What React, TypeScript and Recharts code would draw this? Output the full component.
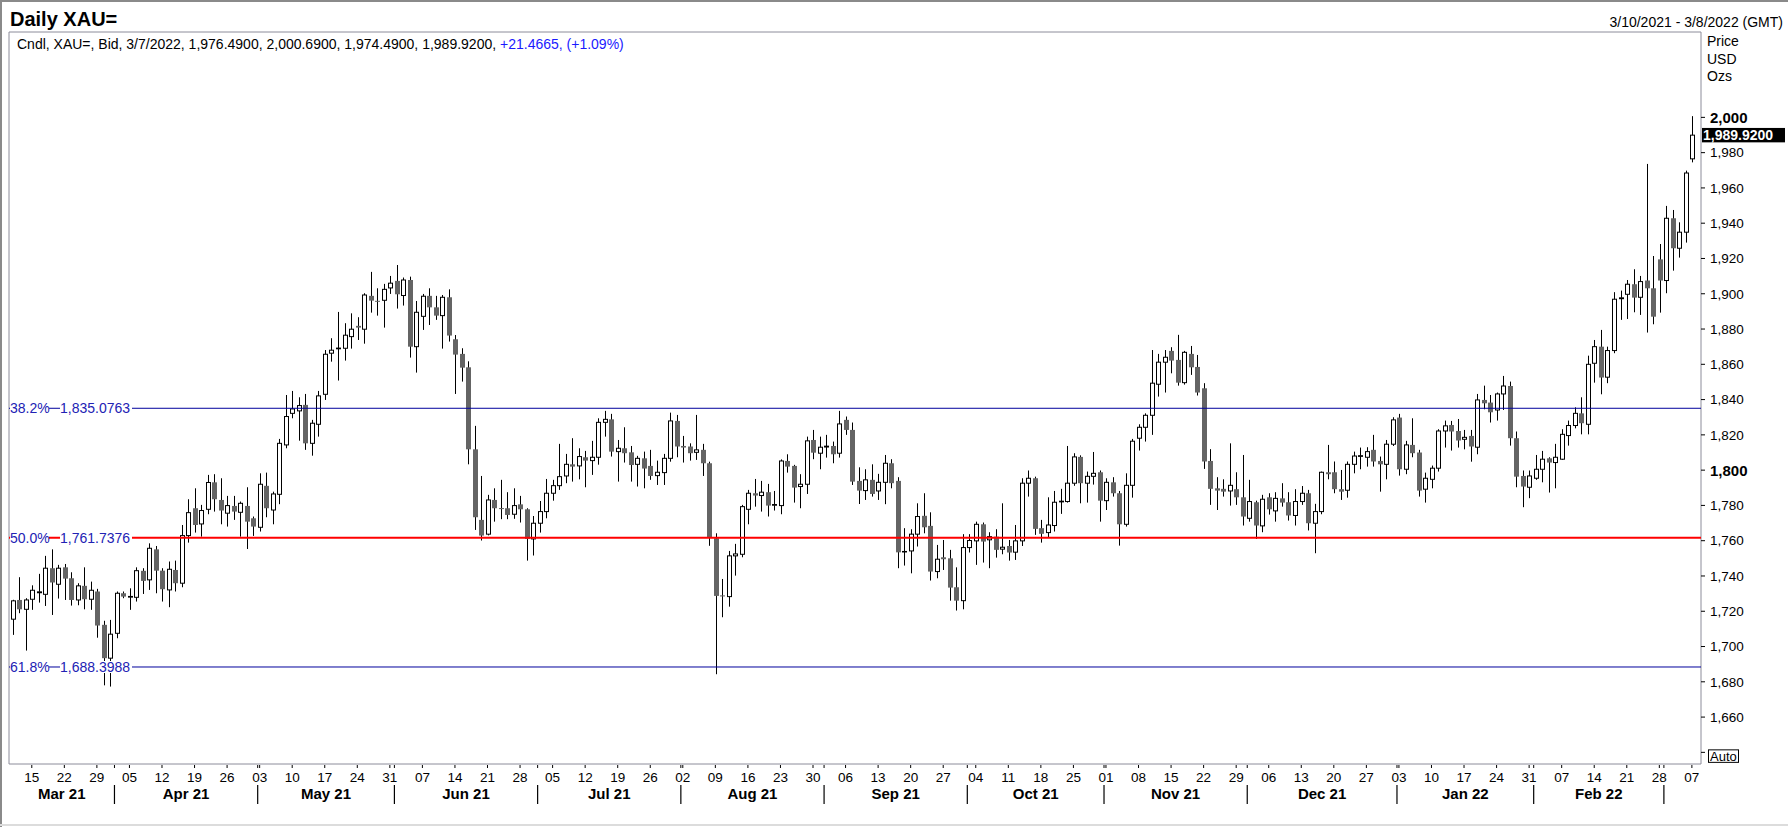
import React from 'react';
import { ComposedChart, Bar, XAxis, YAxis, ReferenceLine, ReferenceArea } from 'recharts';

const FONT = '"Liberation Sans", Arial, sans-serif';

// daily XAU= bid candles, first session 10 Mar 2021 (weekdays only)
const opens = [
  1715.5, 1726.4, 1721.1, 1726.8, 1730.5, 1729.6, 1744.4, 1735.3, 1744.9, 1738.7,
  1726.4, 1734.4, 1726.8, 1731.2, 1712.3, 1693.4, 1707.5, 1730.2, 1728.0, 1727.9,
  1742.9, 1737.8, 1755.1, 1743.0, 1732.1, 1743.4, 1735.9, 1762.9, 1778.4, 1769.5,
  1777.8, 1793.1, 1783.1, 1775.6, 1779.7, 1776.1, 1779.7, 1772.7, 1767.6, 1791.1,
  1777.4, 1786.3, 1814.3, 1832.2, 1833.6, 1837.0, 1815.2, 1826.0, 1843.0, 1866.3,
  1868.8, 1869.1, 1875.7, 1881.8, 1879.9, 1898.8, 1896.0, 1896.3, 1903.3, 1907.3,
  1899.0, 1907.8, 1870.0, 1887.2, 1898.8, 1892.3, 1887.6, 1898.0, 1874.2, 1865.9,
  1858.3, 1811.8, 1771.8, 1763.7, 1783.1, 1778.5, 1778.4, 1775.0, 1780.6, 1777.8,
  1761.0, 1769.9, 1776.5, 1786.9, 1791.2, 1796.7, 1803.3, 1802.4, 1807.3, 1805.4,
  1807.3, 1827.1, 1828.8, 1810.5, 1812.4, 1810.1, 1803.3, 1806.7, 1802.4, 1796.9,
  1798.6, 1806.7, 1827.9, 1813.7, 1813.4, 1810.1, 1811.5, 1803.9, 1761.4, 1729.0,
  1728.3, 1751.4, 1752.3, 1777.8, 1786.9, 1785.6, 1787.5, 1780.1, 1779.9, 1805.2,
  1802.4, 1790.7, 1792.0, 1817.1, 1809.6, 1813.1, 1813.7, 1809.6, 1828.5, 1822.8,
  1793.9, 1788.4, 1794.5, 1788.2, 1793.1, 1803.9, 1793.9, 1753.6, 1754.2, 1763.7,
  1774.1, 1768.4, 1742.5, 1750.6, 1750.0, 1733.6, 1726.0, 1756.1, 1759.9, 1769.3,
  1760.5, 1762.3, 1755.2, 1757.0, 1753.5, 1759.9, 1792.6, 1795.4, 1767.1, 1764.6,
  1768.6, 1782.0, 1782.2, 1792.6, 1807.5, 1792.6, 1796.5, 1798.8, 1782.7, 1793.1,
  1786.9, 1769.3, 1791.4, 1818.1, 1824.3, 1831.1, 1848.7, 1861.2, 1867.6, 1862.5,
  1849.6, 1865.9, 1858.5, 1846.4, 1805.2, 1789.7, 1789.4, 1788.2, 1789.2, 1784.6,
  1772.7, 1781.8, 1768.4, 1784.6, 1776.9, 1784.0, 1781.8, 1774.3, 1782.2, 1786.9,
  1769.9, 1776.5, 1798.8, 1798.8, 1789.2, 1788.6, 1803.3, 1807.8, 1807.3, 1811.5,
  1805.2, 1803.3, 1814.7, 1829.8, 1800.5, 1814.3, 1810.0, 1789.2, 1794.8, 1801.1,
  1822.2, 1825.6, 1822.2, 1817.5, 1819.4, 1813.0, 1839.8, 1838.3, 1834.1, 1843.2,
  1847.7, 1818.1, 1796.7, 1790.3, 1795.4, 1800.5, 1806.7, 1804.3, 1806.2, 1819.6,
  1825.3, 1832.2, 1826.0, 1860.6, 1870.0, 1852.7, 1867.8, 1897.2, 1899.7, 1905.4,
  1898.0, 1907.5, 1903.1, 1919.5, 1907.5, 1942.8, 1925.8, 1934.9, 1976.49,
];

const highs = [
  1726.5, 1739.3, 1727.4, 1734.7, 1741.2, 1751.4, 1755.1, 1746.3, 1746.8, 1742.1,
  1735.9, 1744.9, 1736.8, 1732.7, 1714.6, 1715.1, 1731.2, 1731.2, 1733.0, 1744.9,
  1744.4, 1758.5, 1757.0, 1744.4, 1748.2, 1748.7, 1768.9, 1783.5, 1789.7, 1780.3,
  1797.3, 1797.7, 1795.4, 1785.4, 1785.4, 1782.2, 1790.3, 1773.7, 1798.2, 1798.6,
  1787.8, 1817.7, 1842.6, 1844.9, 1841.3, 1843.2, 1828.5, 1844.9, 1868.1, 1874.8,
  1889.7, 1883.3, 1888.9, 1886.7, 1900.3, 1912.4, 1903.1, 1905.6, 1910.1, 1916.3,
  1909.2, 1909.7, 1895.9, 1899.9, 1903.1, 1898.8, 1899.3, 1902.5, 1876.6, 1869.1,
  1861.7, 1825.1, 1796.7, 1786.0, 1789.7, 1794.5, 1787.5, 1789.7, 1785.4, 1778.4,
  1774.0, 1782.5, 1795.0, 1794.5, 1814.9, 1809.2, 1818.1, 1812.4, 1810.9, 1816.6,
  1829.4, 1833.6, 1831.9, 1817.1, 1824.3, 1813.7, 1808.1, 1810.5, 1811.5, 1805.4,
  1809.2, 1832.6, 1831.3, 1819.4, 1815.2, 1831.3, 1814.9, 1804.8, 1764.2, 1738.3,
  1754.2, 1758.2, 1780.3, 1788.8, 1795.0, 1793.9, 1792.2, 1788.2, 1806.1, 1809.0,
  1803.0, 1797.7, 1819.0, 1822.8, 1819.0, 1820.0, 1816.2, 1833.6, 1830.4, 1827.0,
  1801.6, 1800.5, 1803.3, 1797.9, 1808.6, 1806.2, 1796.0, 1767.1, 1766.5, 1781.2,
  1786.9, 1776.1, 1757.6, 1760.4, 1754.8, 1744.9, 1763.7, 1763.7, 1770.8, 1770.3,
  1764.8, 1766.5, 1781.2, 1760.4, 1768.9, 1795.4, 1799.8, 1796.3, 1771.8, 1784.6,
  1788.2, 1789.4, 1813.7, 1809.6, 1808.4, 1799.2, 1810.3, 1799.8, 1795.4, 1796.0,
  1788.2, 1798.2, 1817.7, 1826.0, 1832.2, 1868.1, 1865.9, 1868.1, 1869.7, 1876.7,
  1867.6, 1870.4, 1865.3, 1849.3, 1811.9, 1796.0, 1794.8, 1815.2, 1798.8, 1808.6,
  1794.5, 1782.7, 1786.0, 1786.9, 1787.5, 1792.6, 1787.5, 1789.2, 1791.0, 1788.8,
  1780.9, 1799.2, 1814.3, 1804.9, 1800.1, 1804.9, 1810.5, 1812.8, 1813.0, 1820.0,
  1807.7, 1817.1, 1830.0, 1831.9, 1816.6, 1829.4, 1811.5, 1798.6, 1802.6, 1823.2,
  1828.1, 1827.9, 1829.0, 1822.8, 1822.8, 1843.2, 1847.9, 1842.6, 1844.0, 1853.4,
  1850.2, 1821.9, 1799.8, 1799.8, 1808.6, 1810.9, 1807.3, 1814.9, 1823.2, 1828.1,
  1835.6, 1841.3, 1864.9, 1873.8, 1879.5, 1870.0, 1900.9, 1901.8, 1907.8, 1913.9,
  1910.1, 1973.6, 1921.4, 1928.2, 1949.8, 1947.5, 1940.5, 1969.8, 2000.69,
];

const lows = [
  1706.6, 1718.9, 1697.7, 1720.8, 1724.9, 1723.0, 1717.9, 1727.2, 1726.4, 1723.2,
  1723.4, 1721.1, 1720.8, 1705.0, 1678.0, 1677.3, 1704.7, 1727.4, 1720.8, 1725.5,
  1729.8, 1732.1, 1730.2, 1725.5, 1722.3, 1731.2, 1733.6, 1758.9, 1764.6, 1762.3,
  1775.0, 1776.5, 1769.3, 1768.0, 1771.8, 1762.3, 1755.3, 1762.7, 1765.2, 1773.3,
  1769.3, 1780.7, 1812.4, 1829.4, 1816.7, 1811.5, 1808.2, 1819.0, 1839.8, 1861.5,
  1850.8, 1862.1, 1868.9, 1873.8, 1871.7, 1889.3, 1887.6, 1880.8, 1899.9, 1891.6,
  1893.3, 1863.8, 1855.3, 1879.5, 1882.3, 1885.2, 1868.9, 1872.9, 1843.2, 1850.2,
  1803.3, 1766.1, 1760.1, 1763.0, 1770.8, 1772.2, 1772.2, 1772.4, 1770.3, 1748.7,
  1751.6, 1764.6, 1772.7, 1782.7, 1788.8, 1792.6, 1793.5, 1794.8, 1790.3, 1797.3,
  1803.1, 1819.0, 1807.7, 1793.5, 1804.3, 1793.5, 1790.7, 1789.7, 1794.5, 1791.6,
  1791.6, 1804.8, 1807.3, 1804.3, 1805.4, 1805.8, 1796.7, 1757.1, 1684.3, 1716.6,
  1722.6, 1740.2, 1750.6, 1769.3, 1779.3, 1776.5, 1773.7, 1777.1, 1775.0, 1798.6,
  1781.6, 1778.4, 1786.5, 1806.2, 1800.5, 1807.1, 1803.9, 1807.1, 1820.0, 1791.6,
  1780.8, 1783.1, 1785.0, 1783.1, 1780.7, 1789.7, 1744.4, 1745.9, 1741.5, 1756.7,
  1764.2, 1737.4, 1738.7, 1743.4, 1726.0, 1720.4, 1721.1, 1753.3, 1746.3, 1747.6,
  1744.4, 1750.4, 1752.3, 1748.7, 1749.1, 1757.0, 1785.0, 1763.3, 1758.9, 1762.0,
  1765.2, 1775.2, 1781.6, 1791.1, 1781.2, 1781.6, 1791.8, 1770.8, 1777.4, 1785.0,
  1757.2, 1768.0, 1784.4, 1811.1, 1816.2, 1820.0, 1841.7, 1844.0, 1854.9, 1847.9,
  1848.5, 1854.0, 1842.3, 1800.7, 1780.3, 1777.4, 1785.0, 1779.9, 1780.3, 1768.6,
  1770.8, 1761.0, 1764.8, 1774.8, 1770.8, 1779.3, 1771.4, 1768.6, 1780.3, 1765.8,
  1752.9, 1775.0, 1794.8, 1786.9, 1783.1, 1784.4, 1798.2, 1800.5, 1802.0, 1802.0,
  1787.8, 1794.8, 1813.7, 1796.9, 1797.7, 1807.3, 1785.0, 1781.6, 1789.7, 1799.2,
  1812.8, 1811.1, 1812.8, 1811.8, 1804.8, 1809.0, 1834.5, 1827.0, 1828.1, 1834.1,
  1813.9, 1790.3, 1779.0, 1784.1, 1794.5, 1793.1, 1787.3, 1789.7, 1805.8, 1813.9,
  1823.7, 1820.3, 1820.3, 1849.6, 1843.0, 1849.3, 1866.3, 1885.2, 1885.7, 1889.5,
  1888.0, 1878.0, 1882.7, 1889.3, 1900.3, 1913.1, 1920.5, 1929.0, 1974.49,
];

const closes = [
  1725.9, 1721.1, 1726.4, 1731.9, 1731.0, 1744.4, 1736.3, 1744.4, 1738.5, 1726.4,
  1734.4, 1726.8, 1731.9, 1711.9, 1693.4, 1707.0, 1730.2, 1728.3, 1728.4, 1743.0,
  1737.2, 1755.7, 1743.0, 1732.5, 1743.8, 1735.9, 1762.9, 1775.9, 1768.9, 1777.1,
  1793.0, 1783.5, 1777.1, 1779.9, 1776.5, 1781.2, 1770.8, 1768.0, 1792.0, 1778.4,
  1786.5, 1815.2, 1830.4, 1834.7, 1836.6, 1815.2, 1826.6, 1842.1, 1865.7, 1868.0,
  1869.2, 1876.5, 1879.9, 1880.8, 1899.3, 1896.1, 1895.6, 1902.5, 1906.0, 1899.7,
  1907.8, 1870.0, 1889.5, 1898.6, 1892.3, 1887.6, 1898.0, 1876.3, 1865.5, 1858.1,
  1811.8, 1773.3, 1762.9, 1783.1, 1778.4, 1778.3, 1774.6, 1779.9, 1777.8, 1761.0,
  1769.9, 1776.5, 1786.9, 1791.2, 1796.3, 1803.3, 1802.0, 1807.7, 1805.4, 1807.3,
  1827.1, 1828.8, 1810.5, 1812.4, 1809.6, 1802.9, 1806.7, 1800.9, 1796.7, 1798.8,
  1806.7, 1827.9, 1813.4, 1812.8, 1809.6, 1811.5, 1803.9, 1761.8, 1728.7, 1728.4,
  1751.4, 1752.5, 1779.3, 1786.9, 1785.6, 1787.5, 1779.9, 1780.5, 1805.2, 1802.0,
  1790.1, 1792.0, 1816.6, 1809.9, 1813.0, 1813.6, 1809.0, 1826.2, 1822.8, 1793.5,
  1788.4, 1794.5, 1786.5, 1793.1, 1803.9, 1792.6, 1753.4, 1753.9, 1763.7, 1773.7,
  1767.6, 1742.5, 1749.5, 1749.5, 1733.4, 1726.0, 1756.1, 1760.1, 1769.3, 1759.5,
  1762.3, 1754.8, 1756.3, 1753.3, 1759.9, 1792.6, 1795.4, 1766.7, 1763.9, 1768.9,
  1781.8, 1782.4, 1792.6, 1807.5, 1792.6, 1796.5, 1798.2, 1782.7, 1793.1, 1786.9,
  1769.3, 1791.4, 1816.4, 1824.3, 1831.1, 1849.3, 1861.2, 1864.0, 1862.1, 1849.6,
  1866.8, 1858.3, 1844.0, 1804.9, 1789.4, 1788.4, 1787.8, 1791.4, 1784.6, 1773.7,
  1782.2, 1768.6, 1783.5, 1777.8, 1784.0, 1781.6, 1774.3, 1782.2, 1786.9, 1769.9,
  1776.5, 1798.8, 1797.7, 1789.2, 1787.8, 1803.3, 1808.0, 1808.2, 1810.5, 1804.9,
  1803.3, 1814.7, 1828.5, 1800.5, 1814.3, 1809.6, 1788.4, 1795.4, 1801.1, 1822.2,
  1825.1, 1821.9, 1816.8, 1818.6, 1813.4, 1839.8, 1837.9, 1832.8, 1843.2, 1847.7,
  1818.1, 1796.3, 1790.7, 1796.7, 1800.5, 1806.2, 1804.3, 1807.3, 1820.3, 1825.3,
  1832.2, 1826.6, 1860.0, 1870.0, 1852.5, 1867.8, 1896.9, 1897.7, 1905.4, 1897.8,
  1906.9, 1903.1, 1887.0, 1907.5, 1942.8, 1925.8, 1934.9, 1968.4535, 1989.92,
];

const fibPcts = ['38.2%', '50.0%', '61.8%'];
const fibValues = [1835.0763, 1761.7376, 1688.3988];
const fibColors = ['#00009c', '#ff0000', '#00009c'];

const yTicks = [1640, 1660, 1680, 1700, 1720, 1740, 1760, 1780, 1800, 1820, 1840, 1860, 1880, 1900, 1920, 1940, 1960, 1980, 2000];
const boldTicks = [1800, 2000];
const MONTHS = ['Jan', 'Feb', 'Mar', 'Apr', 'May', 'Jun', 'Jul', 'Aug', 'Sep', 'Oct', 'Nov', 'Dec'];

const X_MIN = -0.5;
const X_MAX = closes.length + 0.4;
const Y_MIN = 1633.4;
const Y_MAX = 2048.4;

// trading sessions: weekdays starting 10 Mar 2021
const sessions: Date[] = [];
{
  const d = new Date(Date.UTC(2021, 2, 10));
  while (sessions.length < closes.length) {
    const wd = d.getUTCDay();
    if (wd !== 0 && wd !== 6) sessions.push(new Date(d.getTime()));
    d.setUTCDate(d.getUTCDate() + 1);
  }
}

const data = closes.map((c, i) => ({ i, o: opens[i], h: highs[i], l: lows[i], c }));

const dayLabels = new Map<number, string>();
sessions.forEach((d, i) => {
  if (d.getUTCDay() === 1) dayLabels.set(i, String(d.getUTCDate()).padStart(2, '0'));
});

const monthStarts: number[] = [];
sessions.forEach((d, i) => {
  if (i > 0 && d.getUTCMonth() !== sessions[i - 1].getUTCMonth()) monthStarts.push(i);
});
const boundaries = monthStarts.map((i) => i - 0.3);
const boundarySet = new Set(boundaries);

const monthLabels = new Map<number, string>();
{
  const edges = [X_MIN, ...boundaries, X_MAX];
  const firsts = [0, ...monthStarts];
  for (let k = 0; k < firsts.length; k++) {
    const a = edges[k];
    const b = edges[k + 1];
    if (b - a < 10) continue;
    const d = sessions[firsts[k]];
    monthLabels.set((a + b) / 2, `${MONTHS[d.getUTCMonth()]} ${String(d.getUTCFullYear()).slice(2)}`);
  }
}

const dayTicks = [...dayLabels.keys(), ...boundaries].sort((a, b) => a - b);
const monthTicks = [...monthLabels.keys(), ...boundaries].sort((a, b) => a - b);

const fmt4 = (v: number) => v.toLocaleString('en-US', { minimumFractionDigits: 4, maximumFractionDigits: 4 });

const last = data[data.length - 1];
const prevClose = closes[closes.length - 2];
const lastDate = sessions[sessions.length - 1];
const change = last.c - prevClose;

function Candle(props: any) {
  const { x, y, width, height, payload } = props;
  if (x == null || y == null) return null;
  const { o, h, l, c } = payload;
  const top = Math.min(y, y + height);
  const span = Math.abs(height);
  const py = (v: number) => top + ((h - v) / (h - l || 1)) * span;
  const cx = Math.round(x + width / 2) + 0.5;
  const bTop = py(Math.max(o, c));
  const bBot = py(Math.min(o, c));
  const left = cx - 2.5;
  const up = c >= o;
  return (
    <g>
      <line x1={cx} x2={cx} y1={top} y2={top + span} stroke="#000" strokeWidth={1} />
      {up ? (
        <rect x={left + 0.5} y={bTop} width={4} height={Math.max(bBot - bTop, 0.3)} fill="#fff" stroke="#000" strokeWidth={1} />
      ) : (
        <rect x={left} y={bTop} width={5} height={Math.max(bBot - bTop, 1)} fill="#646464" />
      )}
    </g>
  );
}

function DayTick(props: any) {
  const { x, y, payload } = props;
  const v = payload.value;
  const mark = <line x1={x} x2={x} y1={y + 1} y2={y + 4} stroke="#000" strokeWidth={1} />;
  if (boundarySet.has(v)) return mark;
  return (
    <g>
      {mark}
      <text x={x} y={y + 17.5} textAnchor="middle" fontSize={13.5} fill="#000" fontFamily={FONT}>
        {dayLabels.get(v)}
      </text>
    </g>
  );
}

function MonthTick(props: any) {
  const { x, y, payload } = props;
  const v = payload.value;
  if (boundarySet.has(v)) return <line x1={x} x2={x} y1={y + 1} y2={y + 20} stroke="#000" strokeWidth={1.2} />;
  return (
    <text x={x} y={y + 14.7} textAnchor="middle" fontSize={15} fontWeight="bold" fill="#000" fontFamily={FONT}>
      {monthLabels.get(v)}
    </text>
  );
}

function PriceTick(props: any) {
  const { x, y, payload } = props;
  const v = payload.value;
  const mark = <line x1={x} x2={x + 4} y1={y} y2={y} stroke="#000" strokeWidth={1} />;
  if (v === yTicks[0]) {
    return (
      <g>
        {mark}
        <rect x={x + 7.5} y={y - 2.5} width={30} height={12.5} fill="#fff" stroke="#000" strokeWidth={1} />
        <text x={x + 9} y={y + 8.5} fontSize={13} fill="#000" fontFamily={FONT}>Auto</text>
      </g>
    );
  }
  const bold = boldTicks.includes(v);
  return (
    <g>
      {mark}
      <text x={x + 9} y={y + (bold ? 5.4 : 4.8)} fontSize={bold ? 15 : 13.5} fontWeight={bold ? 'bold' : 'normal'} fill="#000" fontFamily={FONT}>
        {v.toLocaleString('en-US')}
      </text>
    </g>
  );
}

function FibLabel(props: any) {
  const { viewBox, pct, value } = props;
  if (!viewBox) return null;
  const { x, y } = viewBox;
  return (
    <g>
      <rect x={x + 1} y={y - 6} width={39} height={12} fill="#fff" />
      <text x={x + 1} y={y + 5} fontSize={14} fill="#2222b4" fontFamily={FONT}>{pct}</text>
      <rect x={x + 51} y={y - 6} width={72} height={12} fill="#fff" />
      <text x={x + 51} y={y + 5} fontSize={14} fill="#2222b4" fontFamily={FONT}>{fmt4(value)}</text>
    </g>
  );
}

function PriceTag(props: any) {
  const { viewBox } = props;
  if (!viewBox) return null;
  const right = viewBox.x + viewBox.width;
  const y = viewBox.y;
  return (
    <g>
      <rect x={right + 1} y={y - 7.2} width={83} height={14.4} fill="#000" />
      <text x={right + 2} y={y + 5} fontSize={14} fontWeight="bold" fill="#fff" fontFamily={FONT}>{fmt4(last.c)}</text>
    </g>
  );
}

const text = (size: number, extra: React.CSSProperties = {}): React.CSSProperties => ({
  position: 'absolute',
  fontSize: size,
  lineHeight: 1,
  whiteSpace: 'nowrap',
  color: '#000',
  ...extra,
});

export default function App() {
  return (
    <div style={{ position: 'absolute', left: 0, top: 0, width: 1788, height: 827, background: '#fff', fontFamily: FONT, overflow: 'hidden' }}>
      <div style={{ position: 'absolute', left: 0, top: 0, width: 1788, height: 2, background: '#8a8a8a' }} />
      <div style={{ position: 'absolute', left: 0, top: 0, width: 2, height: 827, background: '#8a8a8a' }} />
      <div style={{ position: 'absolute', left: 0, top: 824, width: 1788, height: 2, background: '#dcdcdc' }} />

      <ComposedChart width={1788} height={827} data={data} margin={{ top: 32, right: 0, bottom: 0, left: 9 }}>
        <XAxis
          xAxisId="d"
          dataKey="i"
          type="number"
          domain={[X_MIN, X_MAX]}
          allowDataOverflow
          ticks={dayTicks}
          interval={0}
          height={20}
          axisLine={false}
          tickLine={false}
          tickSize={0}
          tickMargin={0}
          tick={(p: any) => <DayTick {...p} />}
        />
        <XAxis
          xAxisId="m"
          dataKey="i"
          type="number"
          domain={[X_MIN, X_MAX]}
          allowDataOverflow
          ticks={monthTicks}
          interval={0}
          height={43}
          axisLine={false}
          tickLine={false}
          tickSize={0}
          tickMargin={0}
          tick={(p: any) => <MonthTick {...p} />}
        />
        <XAxis xAxisId="c" dataKey="i" type="number" domain={[X_MIN, X_MAX]} allowDataOverflow hide height={0} />
        <YAxis
          yAxisId="p"
          orientation="right"
          type="number"
          width={87}
          domain={[Y_MIN, Y_MAX]}
          allowDataOverflow
          ticks={yTicks}
          interval={0}
          axisLine={false}
          tickLine={false}
          tickSize={0}
          tickMargin={0}
          tick={(p: any) => <PriceTick {...p} />}
        />
        <ReferenceArea xAxisId="c" yAxisId="p" x1={X_MIN} x2={X_MAX} y1={Y_MIN} y2={Y_MAX} fill="none" stroke="#8c8c9a" strokeWidth={1} />
        <Bar
          xAxisId="c"
          yAxisId="p"
          dataKey={(d: any) => [d.l, d.h]}
          barSize={5}
          isAnimationActive={false}
          shape={(p: any) => <Candle {...p} />}
        />
        {fibValues.map((v, k) => (
          <ReferenceLine
            key={fibPcts[k]}
            xAxisId="c"
            yAxisId="p"
            y={v}
            stroke={fibColors[k]}
            strokeWidth={k === 1 ? 2 : 1}
            label={<FibLabel pct={fibPcts[k]} value={v} />}
          />
        ))}
        <ReferenceLine xAxisId="c" yAxisId="p" y={last.c} strokeOpacity={0} label={<PriceTag />} />
      </ComposedChart>

      <div style={text(20, { left: 10, top: 8.5, fontWeight: 'bold' })}>Daily XAU=</div>
      <div style={text(14, { right: 5, top: 15 })}>3/10/2021 - 3/8/2022 (GMT)</div>
      <div style={text(14, { left: 17, top: 36.5 })}>
        {`Cndl, XAU=, Bid, ${lastDate.getUTCMonth() + 1}/${lastDate.getUTCDate()}/${lastDate.getUTCFullYear()}, ${fmt4(last.o)}, ${fmt4(last.h)}, ${fmt4(last.l)}, ${fmt4(last.c)}, `}
        <span style={{ color: '#1a1aff' }}>{`+${change.toFixed(4)}, (+${((change / prevClose) * 100).toFixed(2)}%)`}</span>
      </div>
      <div style={text(14, { left: 1707, top: 33.5 })}>Price</div>
      <div style={text(14, { left: 1707, top: 51.5 })}>USD</div>
      <div style={text(14, { left: 1707, top: 69 })}>Ozs</div>
    </div>
  );
}
